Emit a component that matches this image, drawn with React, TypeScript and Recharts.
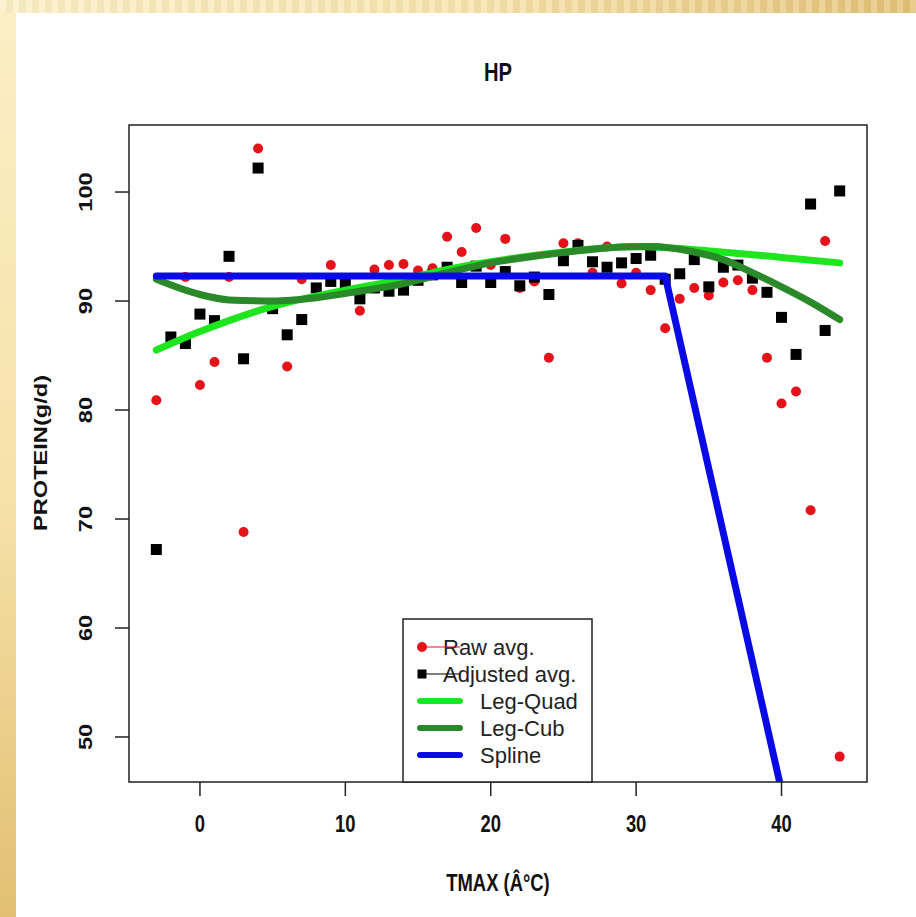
import React from 'react';
import { ComposedChart, Scatter, Line, XAxis, YAxis, ReferenceArea } from 'recharts';

// TMAX values (°C), one per observed day-temperature bin
const tmax = [
  -3, -2, -1, 0, 1, 2, 3, 4, 5, 6, 7, 8, 9, 10, 11, 12, 13, 14, 15, 16, 17, 18, 19, 20,
  21, 22, 23, 24, 25, 26, 27, 28, 29, 30, 31, 32, 33, 34, 35, 36, 37, 38, 39, 40, 41, 42, 43, 44,
];

const rawAvg = [
  80.9, 86.6, 92.2, 82.3, 84.4, 92.2, 68.8, 104.0, 89.5, 84.0, 92.0, 91.0, 93.3, 92.0, 89.1, 92.9,
  93.3, 93.4, 92.8, 93.0, 95.9, 94.5, 96.7, 93.3, 95.7, 91.2, 91.8, 84.8, 95.3, 95.3, 92.6, 95.0,
  91.6, 92.6, 91.0, 87.5, 90.2, 91.2, 90.5, 91.7, 91.9, 91.0, 84.8, 80.6, 81.7, 70.8, 95.5, 48.2,
];

const adjustedAvg = [
  67.2, 86.7, 86.1, 88.8, 88.2, 94.1, 84.7, 102.2, 89.3, 86.9, 88.3, 91.2, 91.8, 91.6, 90.2, 91.2,
  90.9, 91.0, 91.9, 92.4, 93.1, 91.7, 93.2, 91.7, 92.7, 91.4, 92.2, 90.6, 93.7, 95.1, 93.6, 93.1,
  93.5, 93.9, 94.2, 92.0, 92.5, 93.8, 91.3, 93.1, 93.3, 92.1, 90.8, 88.5, 85.1, 98.9, 87.3, 100.1,
];

const quadT = [-3, 0, 5, 10, 14, 17, 20, 25, 30, 35, 40, 44];
const quadFit = [85.5, 87.2, 89.5, 91.0, 92.0, 92.9, 93.6, 94.5, 95.0, 94.6, 94.0, 93.5];

const cubT = [-3, 0, 2, 5, 8, 11, 14, 17, 20, 23, 26, 29, 31, 34, 36, 38, 40, 42, 44];
const cubFit = [92.0, 90.6, 90.1, 90.0, 90.3, 90.9, 91.6, 92.6, 93.5, 94.1, 94.6, 94.95, 95.0, 94.5, 93.8, 92.6, 91.3, 89.9, 88.3];

const splineT = [-3, 32, 44];
const splineFit = [92.3, 92.3, 21.5];

const xTicks = [0, 10, 20, 30, 40];
const yTicks = [50, 60, 70, 80, 90, 100];
const xDomain = [-4.88, 45.88];
const yDomain = [45.87, 106.15];

const legendItems = ['Raw avg.', 'Adjusted avg.', 'Leg-Quad', 'Leg-Cub', 'Spline'];

const RED = '#e6121a';
const LIGHT_GREEN = '#1ee61e';
const DARK_GREEN = '#2a8a2a';
const BLUE = '#0a0ae6';
const FONT = '"Liberation Sans", Arial, sans-serif';

const toPoints = (xs: number[], ys: number[]) => xs.map((t, i) => ({ t, v: ys[i] }));

const rawData = toPoints(tmax, rawAvg);
const adjustedData = toPoints(tmax, adjustedAvg);
const quadData = toPoints(quadT, quadFit);
const cubData = toPoints(cubT, cubFit);
const splineData = toPoints(splineT, splineFit);

const RedDot = (props: any) => <circle cx={props.cx} cy={props.cy} r={5} fill={RED} />;
const BlackSquare = (props: any) => (
  <rect x={props.cx - 5.5} y={props.cy - 5.5} width={11} height={11} fill="#000" />
);

// R's bold labels look a bit tall and narrow in the picture
const BoldText = ({ x, y, rotate = false, size = 20, children }: any) => (
  <text transform={`translate(${x}, ${y}) scale(0.92, 1.18)${rotate ? ' rotate(-90)' : ''}`}
    textAnchor="middle" dominantBaseline="central" fontFamily={FONT} fontWeight="bold"
    fontSize={size} fill="#111">
    {children}
  </text>
);

const XTick = (props: any) => <BoldText x={props.x} y={props.y + 26}>{props.payload.value}</BoldText>;
const YTick = (props: any) => <BoldText x={85} y={props.y} rotate>{props.payload.value}</BoldText>;

function Legend() {
  const top = 619;
  const step = 27;
  return (
    <g fontFamily={FONT} fontSize={22} fill="#222">
      <rect x={403} y={top} width={189} height={163} fill="#fff" stroke="#222" strokeWidth={1.5} />
      {legendItems.map((label, i) => {
        const y = top + 28 + i * step;
        if (i < 2) {
          return (
            <g key={label}>
              <text x={443} y={y} dominantBaseline="central">{label}</text>
              <line x1={422} x2={460} y1={y} y2={y} stroke={i === 0 ? RED : '#000'} strokeWidth={1.2} />
              {i === 0
                ? <circle cx={422} cy={y} r={5} fill={RED} />
                : <rect x={417.5} y={y - 4.5} width={9} height={9} fill="#000" />}
            </g>
          );
        }
        const color = [LIGHT_GREEN, DARK_GREEN, BLUE][i - 2];
        return (
          <g key={label}>
            <line x1={420} x2={460} y1={y} y2={y} stroke={color} strokeWidth={6} strokeLinecap="round" />
            <text x={480} y={y} dominantBaseline="central">{label}</text>
          </g>
        );
      })}
    </g>
  );
}

const layer: React.CSSProperties = { position: 'absolute', left: 0, top: 0 };

export default function App() {
  return (
    <div style={{ position: 'absolute', left: 0, top: 0, width: 916, height: 917, overflow: 'hidden', background: '#fff' }}>
      <div style={{ position: 'absolute', left: 0, top: 0, width: 916, height: 13,
        background: 'linear-gradient(to right, #fcefc6 0%, #f8e4ad 50%, #e4c277 100%)' }} />
      <div style={{ position: 'absolute', left: 0, top: 0, width: 16, height: 917,
        background: 'linear-gradient(to bottom, #fcefc6 0%, #f6e1a8 55%, #e2bf72 100%)' }} />
      <div style={{ position: 'absolute', left: 0, top: 0, width: 916, height: 13,
        background: 'repeating-linear-gradient(to right, rgba(255,255,255,0.18) 0 6px, rgba(0,0,0,0.03) 6px 13px)' }} />
      <div style={{ position: 'absolute', left: 16, top: 13, width: 900, height: 904, background: '#fff' }} />

      {/* points and axes */}
      <div style={layer}>
        <ComposedChart width={916} height={917} margin={{ top: 125, right: 49, bottom: 75, left: 69 }}>
          <XAxis dataKey="t" type="number" domain={xDomain} ticks={xTicks} allowDataOverflow
            height={60} tickSize={14} tickLine={{ stroke: '#222', strokeWidth: 1.5 }} axisLine={false} tick={<XTick />} />
          <YAxis dataKey="v" type="number" domain={yDomain} ticks={yTicks} allowDataOverflow
            width={60} tickSize={14} tickLine={{ stroke: '#222', strokeWidth: 1.5 }} axisLine={false} tick={<YTick />} />
          <Scatter name="Raw avg." data={rawData} dataKey="v" shape={<RedDot />} isAnimationActive={false} />
          <Scatter name="Adjusted avg." data={adjustedData} dataKey="v" shape={<BlackSquare />} isAnimationActive={false} />
        </ComposedChart>
      </div>

      {/* fitted curves drawn over the points, same scales */}
      <div style={layer}>
        <ComposedChart width={916} height={917} margin={{ top: 125, right: 49, bottom: 135, left: 129 }}>
          <XAxis dataKey="t" type="number" domain={xDomain} allowDataOverflow hide />
          <YAxis dataKey="v" type="number" domain={yDomain} allowDataOverflow hide />
          <Line name="Leg-Quad" data={quadData} dataKey="v" type="monotone" stroke={LIGHT_GREEN} strokeWidth={7}
            strokeLinecap="round" dot={false} activeDot={false} isAnimationActive={false} />
          <Line name="Leg-Cub" data={cubData} dataKey="v" type="monotone" stroke={DARK_GREEN} strokeWidth={7}
            strokeLinecap="round" dot={false} activeDot={false} isAnimationActive={false} />
          <Line name="Spline" data={splineData} dataKey="v" type="linear" stroke={BLUE} strokeWidth={7}
            strokeLinecap="round" strokeLinejoin="round" dot={false} activeDot={false} isAnimationActive={false} />
          <ReferenceArea x1={xDomain[0]} x2={xDomain[1]} y1={yDomain[0]} y2={yDomain[1]}
            fill="none" fillOpacity={0} stroke="#222" strokeWidth={1.5} />
        </ComposedChart>
      </div>

      <svg width={916} height={917} style={{ ...layer, pointerEvents: 'none' }}>
        <BoldText x={498} y={72} size={22}>HP</BoldText>
        <BoldText x={498} y={883}>TMAX (Â°C)</BoldText>
        <BoldText x={40} y={453} rotate>PROTEIN(g/d)</BoldText>
        <Legend />
      </svg>
    </div>
  );
}
